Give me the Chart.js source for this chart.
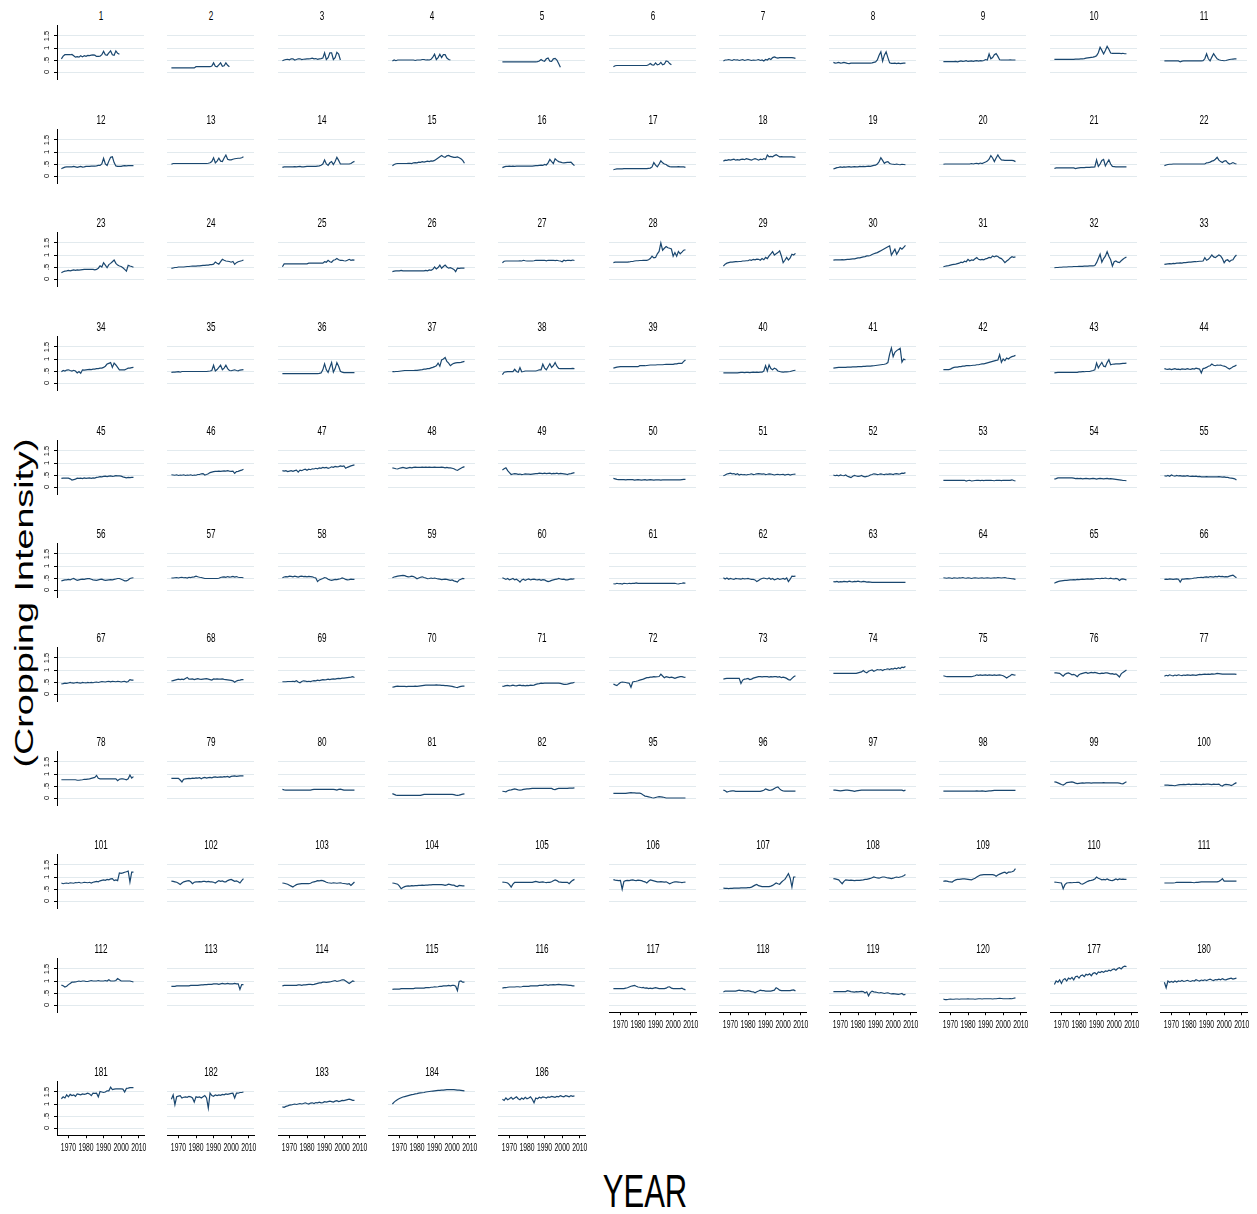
<!DOCTYPE html>
<html>
<head>
<meta charset="utf-8">
<script src="https://cdn.jsdelivr.net/npm/chart.js@4"></script>
<style>
  html, body { margin: 0; padding: 0; background: #fff; }
  body { width: 1257px; height: 1214px; position: relative; overflow: hidden; }
  canvas { position: absolute; }
  .txt { position: absolute; white-space: nowrap; line-height: 1; color: #000;
    font-family: 'Liberation Sans', Arial, sans-serif; }
  #ytitle { left: 24px; top: 603px; font-size: 26px;
    transform: translate(-50%, -50%) rotate(-90deg) scaleX(1.45); }
  #xtitle { left: 645px; top: 1190px; font-size: 47px;
    transform: translate(-50%, -50%) scaleX(0.66); }
  .ptitle { font-size: 12px; transform: translate(-50%, -50%) scaleX(0.68); }
</style>
</head>
<body>
<div id="ytitle" class="txt">(Cropping Intensity)</div>
<div id="xtitle" class="txt">YEAR</div>
<script>
// Years covered by every series (a series may stop early)
const years = [1966,1967,1968,1969,1970,1971,1972,1973,1974,1975,1976,1977,1978,1979,1980,1981,1982,1983,1984,1985,1986,1987,1988,1989,1990,1991,1992,1993,1994,1995,1996,1997,1998,1999,2000,2001,2002,2003,2004,2005,2006,2007];
const xTickValues = [1970, 1980, 1990, 2000, 2010];
const xTickLabels = ['1970', '1980', '1990', '2000', '2010'];
const yTickValues = [0, 0.5, 1, 1.5];
const yTickLabels = ['0', '.5', '1', '1.5'];

// Panel ids, in reading order
const panelIds = [1,2,3,4,5,6,7,8,9,10,11,12,13,14,15,16,17,18,19,20,21,22,23,24,25,26,27,28,29,30,31,32,33,34,35,36,37,38,39,40,41,42,43,44,45,46,47,48,49,50,51,52,53,54,55,56,57,58,59,60,61,62,63,64,65,66,67,68,69,70,71,72,73,74,75,76,77,78,79,80,81,82,95,96,97,98,99,100,101,102,103,104,105,106,107,108,109,110,111,112,113,114,115,116,117,118,119,120,177,180,181,182,183,184,186];

// Cropping intensity by year, one array per panel
const s1 = [.55,.66,.72,.72,.72,.72,.73,.68,.62,.64,.62,.68,.63,.68,.65,.69,.68,.70,.71,.70,.65,.65,.66,.72,.86,.72,.70,.80,.88,.72,.70,.88,.78,.74];
const s2 = [.17,.17,.17,.17,.17,.17,.17,.17,.17,.17,.17,.17,.17,.17,.22,.22,.22,.22,.22,.22,.22,.22,.22,.25,.38,.24,.22,.30,.38,.24,.26,.38,.28,.22];
const s3 = [.47,.50,.52,.53,.51,.55,.55,.50,.52,.55,.55,.52,.53,.54,.55,.55,.56,.58,.55,.56,.53,.55,.56,.58,.80,.52,.60,.80,.80,.52,.60,.82,.75,.50];
const s4 = [.46,.50,.47,.50,.50,.50,.50,.50,.50,.50,.50,.50,.50,.48,.50,.50,.50,.52,.52,.50,.51,.50,.53,.62,.74,.52,.60,.74,.60,.72,.72,.58,.52,.50];
const s5 = [.42,.42,.42,.42,.42,.42,.42,.42,.42,.42,.42,.42,.42,.42,.42,.42,.42,.42,.42,.42,.43,.46,.52,.47,.45,.55,.58,.45,.44,.55,.57,.50,.35,.20];
const s6 = [.22,.26,.27,.27,.27,.27,.27,.27,.27,.27,.27,.27,.27,.27,.27,.27,.27,.27,.27,.27,.30,.35,.30,.29,.38,.30,.32,.40,.30,.33,.46,.44,.35,.30];
const s7 = [.46,.50,.50,.52,.50,.48,.52,.50,.51,.48,.50,.52,.48,.50,.52,.50,.48,.50,.49,.50,.52,.48,.50,.46,.52,.50,.56,.52,.60,.63,.60,.58,.60,.60,.60,.60,.60,.60,.60,.60,.59,.57];
const s8 = [.40,.37,.38,.40,.37,.38,.40,.38,.36,.35,.37,.37,.37,.37,.37,.37,.37,.37,.37,.37,.37,.37,.38,.40,.42,.50,.70,.84,.45,.70,.84,.60,.38,.36,.36,.37,.35,.37,.35,.36,.37,.37];
const s9 = [.43,.43,.43,.43,.43,.43,.43,.44,.42,.44,.46,.44,.45,.47,.44,.45,.46,.44,.46,.47,.45,.47,.46,.48,.52,.50,.75,.55,.60,.72,.77,.65,.51,.50,.50,.50,.50,.50,.51,.50,.50,.50];
const s10 = [.53,.53,.53,.53,.53,.53,.53,.53,.53,.53,.53,.53,.54,.54,.54,.55,.55,.56,.58,.59,.60,.61,.62,.64,.68,.80,1.03,.90,.75,.90,1.07,.95,.79,.78,.78,.78,.78,.78,.77,.78,.76,.76];
const s11 = [.46,.46,.46,.46,.46,.46,.46,.46,.46,.42,.45,.46,.46,.46,.46,.46,.46,.46,.46,.46,.46,.46,.47,.55,.76,.55,.46,.62,.76,.65,.55,.51,.49,.48,.47,.48,.50,.52,.53,.54,.55,.55];
const s12 = [.30,.34,.37,.38,.38,.38,.38,.40,.38,.36,.38,.40,.37,.38,.40,.40,.40,.41,.41,.41,.42,.44,.44,.50,.74,.50,.44,.62,.78,.80,.56,.42,.40,.40,.40,.42,.43,.42,.43,.43,.43,.43];
const s13 = [.49,.52,.52,.52,.52,.52,.52,.52,.52,.52,.52,.52,.52,.52,.52,.52,.52,.52,.52,.52,.52,.53,.55,.60,.76,.55,.62,.74,.62,.60,.75,.87,.70,.67,.67,.70,.72,.73,.74,.74,.76,.80];
const s14 = [.36,.38,.38,.38,.38,.38,.38,.39,.38,.39,.40,.38,.38,.39,.40,.40,.40,.40,.40,.40,.41,.42,.45,.50,.67,.50,.44,.55,.60,.48,.60,.78,.65,.50,.50,.50,.50,.50,.50,.52,.57,.61];
const s15 = [.43,.48,.51,.52,.52,.52,.52,.52,.52,.53,.53,.52,.55,.56,.55,.58,.57,.60,.58,.60,.62,.60,.63,.62,.65,.70,.75,.80,.85,.80,.78,.84,.86,.82,.80,.78,.78,.80,.76,.72,.65,.53];
const s16 = [.35,.38,.40,.40,.41,.40,.41,.40,.41,.41,.41,.41,.41,.41,.41,.41,.41,.41,.42,.43,.43,.44,.45,.44,.48,.46,.55,.69,.60,.52,.72,.65,.60,.58,.56,.55,.56,.57,.57,.58,.50,.43];
const s17 = [.26,.28,.30,.30,.30,.30,.31,.31,.31,.31,.31,.31,.31,.31,.31,.31,.31,.31,.31,.31,.32,.33,.38,.56,.45,.38,.50,.63,.55,.50,.48,.42,.39,.38,.38,.38,.38,.39,.38,.38,.38,.36];
const s18 = [.62,.66,.65,.68,.66,.68,.70,.66,.68,.66,.69,.70,.68,.72,.70,.68,.66,.70,.72,.70,.66,.70,.68,.72,.69,.87,.80,.82,.80,.85,.89,.84,.80,.81,.80,.80,.80,.80,.80,.80,.79,.78];
const s19 = [.29,.32,.35,.36,.38,.36,.38,.37,.38,.39,.37,.38,.39,.38,.38,.40,.39,.40,.39,.40,.41,.40,.42,.44,.45,.50,.60,.76,.65,.53,.58,.60,.52,.50,.49,.48,.50,.48,.47,.49,.48,.47];
const s20 = [.49,.50,.50,.50,.50,.50,.50,.50,.50,.50,.50,.50,.50,.50,.50,.50,.52,.50,.52,.53,.51,.54,.52,.55,.58,.62,.70,.85,.75,.60,.75,.88,.75,.67,.66,.65,.65,.65,.65,.65,.64,.60];
const s21 = [.31,.34,.34,.34,.34,.34,.34,.34,.34,.34,.34,.34,.31,.33,.34,.35,.35,.35,.36,.36,.36,.37,.37,.38,.67,.40,.50,.65,.69,.42,.55,.67,.50,.40,.39,.38,.38,.38,.38,.38,.38,.38];
const s22 = [.43,.46,.48,.49,.49,.50,.50,.50,.50,.50,.50,.50,.50,.50,.50,.50,.50,.50,.50,.50,.50,.50,.50,.50,.55,.56,.58,.62,.64,.70,.78,.66,.60,.56,.62,.64,.55,.50,.52,.56,.52,.50];
const s23 = [.26,.30,.33,.34,.36,.34,.36,.38,.36,.38,.37,.38,.39,.40,.40,.40,.40,.40,.40,.38,.40,.45,.55,.50,.68,.58,.47,.60,.65,.72,.79,.65,.58,.54,.52,.47,.40,.33,.57,.54,.52,.49];
const s24 = [.44,.46,.48,.48,.50,.50,.50,.50,.51,.52,.52,.53,.54,.54,.54,.55,.55,.56,.57,.57,.58,.58,.60,.60,.62,.71,.66,.62,.72,.82,.78,.75,.74,.73,.70,.73,.61,.68,.72,.74,.76,.79];
const s25 = [.51,.63,.63,.63,.63,.63,.63,.63,.63,.63,.63,.63,.63,.63,.63,.66,.66,.66,.66,.66,.66,.66,.66,.66,.72,.70,.78,.72,.70,.78,.80,.85,.80,.78,.78,.76,.75,.78,.82,.78,.80,.79];
const s26 = [.31,.33,.34,.34,.34,.36,.34,.34,.34,.34,.34,.34,.34,.34,.34,.34,.34,.34,.34,.36,.34,.38,.36,.40,.50,.42,.48,.58,.45,.52,.58,.50,.45,.47,.44,.40,.31,.45,.44,.45,.45,.45];
const s27 = [.68,.74,.75,.75,.75,.75,.75,.75,.75,.75,.76,.75,.78,.76,.75,.75,.75,.75,.76,.78,.78,.78,.78,.78,.78,.76,.78,.78,.78,.78,.77,.78,.76,.75,.72,.78,.76,.78,.78,.77,.79,.77];
const s28 = [.68,.70,.70,.70,.70,.70,.70,.70,.70,.71,.73,.73,.75,.76,.76,.77,.77,.78,.78,.78,.80,.85,.95,.88,.90,1.05,1.15,1.50,1.20,1.28,1.35,1.30,1.28,1.25,.95,1.10,.95,1.15,1.05,1.12,1.20,1.22];
const s29 = [.54,.62,.66,.68,.70,.70,.71,.72,.72,.73,.73,.75,.75,.76,.76,.80,.78,.82,.80,.83,.82,.78,.85,.80,.90,.85,.96,1.05,1.14,1.00,1.05,1.10,1.17,.96,.68,.78,.90,.79,.88,1.03,1.00,1.07];
const s30 = [.79,.80,.80,.80,.80,.81,.80,.81,.82,.82,.83,.84,.84,.86,.88,.88,.90,.92,.93,.96,.96,.98,1.02,1.05,1.08,1.10,1.14,1.18,1.22,1.26,1.30,1.34,1.38,1.00,1.12,1.24,1.03,1.15,1.30,1.24,1.32,1.40];
const s31 = [.51,.53,.55,.56,.58,.60,.61,.62,.64,.66,.70,.68,.74,.72,.82,.75,.80,.78,.84,.89,.82,.80,.82,.80,.84,.86,.90,.88,.96,.92,.96,.94,.88,.85,.78,.68,.75,.80,.88,.93,.90,.92];
const s32 = [.47,.48,.48,.49,.49,.50,.50,.50,.51,.51,.51,.52,.52,.52,.53,.53,.53,.54,.54,.54,.55,.55,.55,.56,.68,.85,1.03,.70,.85,.95,1.14,.95,.80,.54,.72,.75,.70,.68,.76,.82,.88,.92];
const s33 = [.61,.62,.63,.64,.63,.65,.64,.66,.66,.67,.66,.68,.68,.69,.70,.70,.71,.72,.72,.73,.74,.74,.75,.89,.78,.82,.90,1.00,.92,.89,.95,1.00,.96,.85,.68,.78,.80,.72,.78,.80,.92,1.00];
const s34 = [.47,.52,.50,.54,.55,.52,.50,.53,.50,.42,.48,.41,.55,.54,.55,.56,.57,.56,.58,.58,.60,.60,.62,.62,.65,.70,.79,.82,.85,.65,.83,.75,.65,.55,.55,.55,.55,.58,.62,.62,.64,.65];
const s35 = [.44,.45,.45,.46,.47,.45,.48,.48,.48,.48,.48,.48,.48,.48,.48,.48,.48,.48,.48,.48,.48,.49,.50,.52,.74,.50,.56,.65,.74,.55,.62,.74,.60,.52,.51,.53,.55,.52,.51,.54,.55,.56];
const s36 = [.39,.39,.39,.39,.39,.39,.39,.39,.39,.39,.39,.39,.39,.39,.39,.39,.39,.39,.39,.39,.39,.40,.42,.55,.80,.55,.44,.65,.85,.45,.60,.85,.70,.49,.45,.43,.43,.43,.43,.43,.43,.43];
const s37 = [.47,.47,.48,.48,.49,.50,.51,.52,.52,.52,.52,.52,.52,.53,.53,.54,.55,.56,.58,.58,.60,.60,.63,.65,.68,.72,.83,.70,.96,1.00,1.06,.90,.83,.72,.78,.82,.84,.85,.85,.86,.88,.90];
const s38 = [.35,.45,.46,.47,.47,.47,.47,.57,.48,.45,.64,.47,.48,.50,.50,.50,.50,.50,.50,.50,.52,.55,.55,.78,.62,.55,.68,.80,.65,.72,.85,.70,.61,.60,.60,.60,.60,.60,.60,.60,.61,.60];
const s39 = [.62,.64,.66,.67,.68,.68,.68,.68,.68,.68,.68,.68,.68,.68,.68,.72,.72,.72,.72,.73,.74,.75,.75,.75,.75,.76,.76,.76,.76,.77,.78,.78,.78,.78,.78,.80,.80,.82,.82,.82,.90,.96];
const s40 = [.42,.42,.42,.42,.42,.42,.42,.42,.42,.43,.44,.44,.43,.44,.44,.43,.44,.45,.44,.45,.44,.45,.45,.50,.72,.50,.75,.60,.55,.62,.58,.50,.48,.46,.45,.46,.46,.47,.48,.50,.52,.53];
const s41 = [.62,.63,.64,.65,.65,.65,.65,.65,.66,.66,.66,.67,.67,.67,.68,.68,.68,.69,.69,.70,.70,.70,.71,.72,.73,.74,.75,.76,.77,.78,.80,.85,1.20,1.46,1.10,1.28,1.35,1.40,1.45,.87,1.00,.96];
const s42 = [.56,.56,.56,.56,.58,.62,.65,.66,.66,.68,.68,.70,.70,.72,.72,.72,.73,.74,.74,.76,.76,.78,.80,.80,.82,.84,.86,.88,.90,.92,.94,.96,1.18,.86,1.00,.93,1.04,1.00,1.06,1.10,1.12,1.15];
const s43 = [.42,.43,.44,.44,.44,.44,.44,.44,.44,.44,.44,.44,.44,.44,.46,.46,.47,.47,.48,.48,.48,.50,.52,.55,.83,.63,.75,.86,.70,.68,.85,.97,.76,.78,.79,.80,.80,.80,.81,.82,.82,.83];
const s44 = [.60,.58,.57,.59,.56,.58,.60,.57,.58,.56,.59,.58,.57,.60,.58,.57,.60,.58,.62,.60,.58,.42,.60,.62,.65,.70,.72,.79,.74,.72,.75,.74,.75,.72,.70,.68,.62,.58,.62,.68,.70,.75];
const s45 = [.36,.37,.37,.37,.37,.34,.29,.31,.33,.37,.36,.37,.35,.38,.36,.37,.38,.36,.38,.37,.40,.41,.43,.42,.44,.45,.43,.45,.46,.44,.45,.47,.46,.46,.45,.42,.40,.38,.40,.39,.40,.40];
const s46 = [.51,.50,.49,.51,.48,.50,.49,.51,.48,.50,.49,.51,.48,.50,.49,.52,.52,.55,.56,.50,.52,.55,.60,.62,.64,.65,.65,.66,.65,.66,.67,.66,.68,.66,.65,.66,.57,.64,.65,.68,.70,.74];
const s47 = [.68,.66,.68,.64,.66,.68,.65,.68,.70,.62,.70,.68,.72,.74,.70,.74,.72,.76,.75,.78,.76,.80,.78,.82,.80,.82,.78,.80,.84,.82,.86,.84,.85,.88,.86,.88,.78,.82,.85,.88,.90,.92];
const s48 = [.80,.78,.76,.75,.78,.80,.82,.80,.78,.80,.82,.80,.82,.83,.82,.82,.82,.83,.82,.83,.82,.83,.82,.82,.83,.82,.82,.82,.83,.82,.80,.82,.80,.80,.78,.76,.72,.69,.74,.78,.82,.85];
const s49 = [.71,.76,.80,.68,.60,.52,.54,.56,.55,.53,.54,.52,.53,.55,.54,.54,.53,.54,.55,.56,.56,.58,.57,.56,.58,.56,.57,.58,.55,.57,.56,.58,.55,.57,.56,.55,.54,.52,.55,.56,.58,.60];
const s50 = [.36,.34,.32,.31,.31,.31,.31,.30,.31,.31,.31,.31,.29,.30,.31,.30,.29,.30,.31,.29,.30,.31,.30,.29,.30,.30,.30,.29,.30,.30,.30,.30,.30,.30,.30,.30,.30,.30,.30,.31,.32,.32];
const s51 = [.47,.50,.54,.56,.58,.55,.56,.52,.55,.50,.53,.51,.52,.50,.52,.53,.55,.52,.53,.55,.56,.55,.54,.55,.52,.53,.55,.54,.52,.50,.52,.53,.51,.52,.53,.50,.52,.53,.50,.52,.53,.54];
const s52 = [.50,.47,.49,.46,.50,.48,.47,.50,.45,.42,.39,.45,.48,.46,.44,.45,.48,.44,.42,.44,.46,.50,.52,.55,.54,.52,.53,.55,.53,.52,.54,.53,.55,.54,.52,.55,.56,.54,.55,.58,.57,.60];
const s53 = [.28,.28,.28,.28,.28,.28,.28,.28,.28,.28,.28,.28,.28,.25,.27,.28,.25,.26,.27,.28,.28,.27,.28,.27,.28,.28,.28,.28,.27,.26,.28,.28,.28,.27,.28,.28,.28,.28,.28,.30,.27,.25];
const s54 = [.33,.35,.38,.38,.38,.38,.38,.38,.38,.38,.38,.37,.35,.36,.35,.36,.34,.35,.36,.35,.34,.35,.36,.35,.33,.35,.36,.35,.34,.35,.36,.34,.35,.34,.33,.32,.31,.30,.29,.27,.27,.26];
const s55 = [.47,.45,.48,.45,.50,.47,.45,.48,.46,.47,.45,.46,.45,.47,.45,.44,.45,.44,.45,.43,.44,.42,.42,.42,.43,.42,.42,.42,.42,.42,.42,.43,.42,.41,.42,.40,.40,.38,.37,.36,.34,.29];
const s56 = [.38,.40,.42,.42,.44,.42,.46,.48,.44,.40,.42,.44,.45,.44,.46,.47,.47,.45,.42,.41,.40,.42,.44,.45,.42,.40,.41,.42,.43,.42,.44,.46,.48,.48,.45,.42,.38,.38,.42,.48,.50,.51];
const s57 = [.50,.50,.51,.52,.50,.52,.53,.51,.52,.50,.53,.52,.54,.55,.58,.55,.53,.52,.50,.48,.48,.48,.48,.48,.48,.48,.48,.49,.52,.54,.55,.53,.56,.54,.55,.57,.54,.56,.53,.52,.52,.51];
const s58 = [.51,.54,.56,.55,.58,.57,.55,.58,.56,.54,.57,.58,.56,.57,.55,.57,.56,.55,.52,.50,.35,.42,.45,.48,.52,.50,.45,.42,.40,.42,.44,.43,.45,.47,.50,.48,.44,.42,.43,.45,.44,.44];
const s59 = [.51,.54,.56,.58,.59,.60,.61,.60,.57,.55,.56,.58,.56,.52,.47,.50,.53,.55,.52,.50,.47,.48,.50,.48,.50,.48,.46,.45,.43,.44,.45,.44,.42,.40,.42,.38,.36,.33,.42,.45,.48,.47];
const s60 = [.51,.48,.44,.48,.42,.45,.48,.42,.45,.40,.33,.42,.45,.40,.44,.46,.42,.44,.45,.43,.42,.44,.40,.43,.42,.38,.35,.37,.40,.42,.44,.45,.48,.46,.44,.45,.42,.42,.44,.46,.45,.47];
const s61 = [.26,.25,.28,.26,.27,.25,.28,.27,.26,.28,.27,.28,.28,.30,.28,.28,.28,.28,.28,.28,.28,.28,.28,.28,.28,.28,.28,.28,.28,.28,.28,.28,.28,.28,.28,.28,.26,.25,.27,.28,.30,.28];
const s62 = [.51,.46,.50,.45,.48,.46,.44,.48,.47,.46,.45,.48,.46,.47,.48,.46,.44,.44,.42,.35,.40,.45,.48,.50,.48,.46,.50,.45,.48,.42,.45,.48,.44,.46,.48,.45,.50,.35,.45,.58,.57,.58];
const s63 = [.35,.34,.36,.33,.35,.34,.36,.35,.34,.37,.35,.34,.36,.35,.37,.35,.34,.36,.35,.33,.34,.33,.32,.32,.32,.32,.32,.32,.32,.32,.32,.32,.32,.32,.32,.32,.32,.32,.32,.32,.32,.32];
const s64 = [.51,.50,.49,.51,.50,.48,.51,.50,.49,.51,.50,.52,.50,.49,.51,.50,.48,.50,.51,.50,.49,.50,.51,.49,.50,.51,.50,.49,.50,.51,.50,.52,.51,.50,.51,.52,.50,.49,.48,.47,.46,.44];
const s65 = [.28,.32,.35,.37,.38,.39,.40,.40,.41,.42,.42,.43,.42,.44,.43,.44,.45,.44,.45,.46,.45,.46,.45,.47,.48,.48,.47,.49,.48,.50,.48,.47,.49,.47,.46,.48,.47,.40,.45,.46,.44,.42];
const s66 = [.44,.45,.44,.46,.45,.44,.45,.46,.45,.33,.45,.45,.46,.47,.46,.47,.48,.50,.50,.52,.52,.53,.52,.54,.55,.53,.56,.55,.54,.57,.55,.58,.56,.57,.55,.56,.55,.58,.60,.62,.56,.51];
const s67 = [.42,.43,.45,.44,.46,.48,.46,.45,.47,.48,.46,.45,.48,.47,.46,.48,.47,.48,.47,.49,.50,.48,.50,.52,.51,.50,.52,.53,.51,.53,.52,.51,.53,.52,.50,.52,.53,.50,.52,.60,.58,.58];
const s68 = [.54,.56,.58,.60,.62,.60,.62,.60,.65,.69,.62,.62,.63,.60,.62,.64,.62,.61,.62,.63,.64,.62,.60,.58,.63,.62,.63,.62,.62,.63,.61,.60,.59,.58,.57,.55,.49,.54,.57,.58,.60,.60];
const s69 = [.51,.51,.51,.52,.52,.52,.53,.52,.55,.50,.47,.52,.55,.54,.52,.53,.52,.54,.56,.55,.58,.56,.58,.60,.59,.60,.62,.60,.62,.63,.62,.64,.65,.64,.66,.66,.67,.68,.69,.70,.72,.69];
const s70 = [.28,.30,.32,.33,.32,.32,.32,.32,.31,.32,.32,.32,.32,.33,.32,.33,.34,.35,.36,.37,.37,.37,.37,.37,.37,.38,.37,.37,.36,.36,.35,.35,.34,.33,.32,.30,.28,.27,.30,.32,.33,.33];
const s71 = [.32,.33,.35,.36,.34,.35,.37,.35,.34,.36,.37,.35,.36,.34,.36,.35,.37,.36,.37,.40,.42,.43,.45,.44,.45,.45,.45,.45,.45,.45,.45,.45,.45,.44,.42,.40,.40,.41,.43,.45,.46,.49];
const s72 = [.42,.38,.35,.42,.48,.50,.49,.48,.46,.45,.28,.50,.52,.53,.55,.58,.60,.62,.65,.68,.68,.70,.70,.72,.71,.72,.73,.83,.75,.68,.72,.70,.68,.70,.68,.65,.68,.70,.72,.72,.70,.69];
const s73 = [.62,.64,.65,.65,.65,.65,.65,.65,.65,.65,.44,.58,.62,.63,.65,.60,.62,.66,.68,.70,.72,.72,.71,.72,.72,.72,.70,.72,.71,.72,.72,.70,.72,.68,.70,.68,.65,.60,.58,.65,.72,.76];
const s74 = [.86,.86,.86,.86,.86,.86,.86,.86,.86,.86,.86,.86,.86,.86,.88,.90,.92,.98,.92,.88,.95,.98,1.00,.95,.98,1.02,1.00,1.02,.98,1.02,1.03,1.05,1.02,1.06,1.04,1.08,1.05,1.10,1.06,1.12,1.10,1.15];
const s75 = [.76,.74,.72,.72,.72,.72,.72,.72,.72,.72,.72,.72,.72,.72,.72,.72,.72,.74,.76,.80,.78,.80,.78,.79,.80,.78,.80,.79,.78,.80,.78,.79,.80,.78,.76,.72,.67,.72,.76,.82,.80,.79];
const s76 = [.88,.88,.87,.86,.80,.74,.82,.86,.88,.84,.80,.82,.78,.72,.80,.84,.86,.88,.90,.86,.88,.90,.88,.90,.88,.86,.85,.87,.86,.88,.88,.86,.84,.85,.82,.84,.78,.71,.84,.90,.95,1.00];
const s77 = [.74,.78,.76,.80,.77,.76,.79,.77,.80,.78,.77,.79,.78,.80,.79,.78,.80,.79,.78,.80,.82,.81,.82,.83,.82,.83,.82,.84,.83,.84,.86,.85,.84,.83,.83,.83,.83,.83,.83,.83,.83,.82];
const s78 = [.76,.76,.76,.76,.76,.76,.76,.76,.76,.74,.74,.75,.76,.78,.78,.79,.80,.82,.84,.86,.94,.82,.80,.80,.80,.80,.80,.80,.80,.80,.80,.80,.72,.78,.80,.80,.78,.76,.80,.96,.83,.89];
const s79 = [.82,.82,.82,.82,.82,.75,.67,.78,.80,.81,.82,.81,.83,.82,.84,.83,.85,.80,.84,.86,.83,.85,.86,.84,.87,.88,.86,.87,.88,.87,.89,.88,.90,.86,.90,.91,.92,.90,.91,.92,.92,.92];
const s80 = [.36,.34,.33,.33,.33,.33,.33,.33,.33,.33,.33,.33,.33,.33,.33,.33,.33,.35,.36,.36,.36,.36,.36,.36,.36,.36,.36,.36,.36,.36,.35,.33,.36,.37,.35,.33,.33,.33,.33,.33,.33,.33];
const s81 = [.18,.15,.12,.11,.11,.11,.11,.11,.11,.11,.11,.11,.11,.11,.11,.11,.11,.13,.15,.15,.15,.15,.15,.15,.15,.15,.15,.15,.15,.15,.15,.15,.15,.15,.15,.14,.12,.11,.12,.14,.16,.17];
const s82 = [.28,.27,.26,.30,.33,.34,.36,.38,.36,.34,.33,.34,.36,.37,.38,.38,.39,.40,.40,.40,.40,.40,.40,.40,.40,.40,.40,.40,.40,.36,.35,.38,.40,.40,.40,.40,.40,.40,.41,.41,.41,.42];
const s95 = [.19,.19,.19,.19,.19,.19,.19,.19,.20,.21,.22,.21,.21,.20,.20,.20,.18,.12,.08,.07,.05,.03,.01,0,.02,.04,.06,.05,.04,.02,0,0,0,0,0,0,0,0,0,0,0,0];
const s96 = [.33,.30,.25,.27,.29,.30,.30,.28,.28,.28,.28,.28,.28,.28,.28,.28,.28,.28,.28,.28,.28,.28,.30,.32,.38,.35,.32,.33,.35,.40,.44,.46,.38,.32,.30,.29,.29,.29,.29,.29,.29,.29];
const s97 = [.33,.33,.32,.31,.30,.31,.32,.33,.33,.32,.31,.30,.28,.30,.31,.32,.33,.33,.33,.33,.33,.33,.33,.33,.33,.33,.33,.33,.33,.33,.33,.33,.33,.33,.33,.33,.33,.33,.33,.33,.30,.33];
const s98 = [.29,.29,.29,.29,.29,.29,.29,.29,.29,.29,.29,.29,.29,.29,.29,.29,.29,.29,.29,.30,.29,.29,.30,.29,.28,.29,.30,.30,.31,.32,.32,.32,.32,.32,.32,.32,.32,.32,.32,.32,.32,.32];
const s99 = [.67,.66,.63,.60,.56,.54,.58,.64,.65,.66,.67,.65,.62,.60,.61,.62,.63,.62,.63,.63,.63,.62,.63,.63,.63,.63,.63,.63,.64,.63,.63,.63,.63,.63,.63,.63,.63,.62,.60,.59,.64,.68];
const s100 = [.54,.54,.54,.53,.53,.52,.51,.53,.55,.56,.56,.57,.56,.57,.58,.56,.57,.57,.58,.57,.57,.56,.58,.57,.58,.58,.57,.56,.58,.57,.57,.58,.52,.50,.55,.57,.56,.55,.52,.55,.60,.64];
const s101 = [.75,.72,.74,.75,.73,.76,.75,.74,.77,.76,.78,.75,.76,.78,.77,.76,.78,.75,.78,.80,.82,.80,.84,.86,.88,.86,.90,.88,.92,.93,.85,.88,.85,1.17,1.15,1.17,1.20,1.22,1.25,.79,1.20,1.20];
const s102 = [.83,.82,.80,.78,.74,.69,.75,.80,.82,.84,.85,.80,.72,.78,.80,.80,.81,.80,.82,.82,.80,.82,.80,.80,.78,.75,.80,.85,.82,.84,.80,.80,.85,.88,.90,.86,.82,.84,.80,.75,.85,.93];
const s103 = [.75,.74,.72,.70,.66,.62,.58,.64,.68,.70,.71,.72,.72,.72,.72,.72,.74,.78,.80,.82,.85,.84,.86,.85,.82,.78,.76,.75,.74,.76,.75,.74,.75,.76,.74,.73,.72,.70,.72,.65,.72,.79];
const s104 = [.75,.74,.72,.70,.62,.51,.56,.60,.62,.63,.62,.64,.63,.64,.64,.65,.65,.66,.65,.66,.66,.67,.67,.68,.68,.68,.68,.68,.68,.67,.65,.67,.70,.68,.66,.66,.62,.60,.65,.64,.63,.63];
const s105 = [.79,.78,.77,.75,.68,.58,.70,.78,.78,.78,.78,.78,.78,.78,.78,.78,.78,.78,.80,.82,.80,.78,.79,.80,.78,.77,.78,.78,.80,.84,.88,.85,.80,.79,.78,.78,.78,.78,.72,.80,.86,.90];
const s106 = [.89,.87,.86,.85,.86,.49,.82,.85,.86,.85,.87,.88,.86,.85,.87,.86,.85,.82,.80,.75,.82,.88,.86,.84,.82,.80,.80,.81,.80,.79,.80,.76,.72,.75,.78,.80,.80,.79,.78,.77,.78,.79];
const s107 = [.54,.53,.53,.52,.53,.53,.54,.54,.54,.54,.55,.55,.55,.55,.56,.56,.58,.62,.66,.69,.64,.62,.60,.60,.60,.60,.60,.62,.65,.70,.75,.72,.70,.78,.85,.90,1.02,1.14,.95,.58,1.00,1.00];
const s108 = [.93,.92,.90,.88,.80,.72,.82,.88,.87,.86,.87,.86,.85,.86,.86,.86,.87,.88,.90,.90,.92,.94,.97,1.00,.98,.96,.95,.98,1.00,1.00,.98,.96,.95,.93,.95,.98,1.00,.98,1.00,1.02,1.05,1.10];
const s109 = [.82,.84,.83,.81,.80,.79,.84,.88,.90,.90,.91,.92,.92,.91,.90,.89,.88,.92,.95,1.00,1.04,1.08,1.09,1.10,1.10,1.10,1.10,1.10,1.10,1.08,1.03,1.08,1.12,1.15,1.18,1.20,1.15,1.20,1.20,1.22,1.25,1.35];
const s110 = [.79,.78,.77,.76,.75,.51,.68,.75,.76,.77,.76,.77,.77,.78,.78,.72,.70,.74,.78,.82,.85,.86,.88,.92,1.00,.95,.92,.88,.90,.88,.92,.88,.86,.85,.88,.92,.88,.92,.90,.91,.90,.90];
const s111 = [.75,.75,.75,.75,.75,.75,.76,.78,.78,.78,.78,.78,.78,.78,.78,.78,.77,.76,.78,.78,.79,.80,.80,.80,.80,.80,.80,.80,.80,.80,.80,.82,.86,.93,.83,.83,.83,.83,.83,.83,.83,.83];
const s112 = [.83,.80,.75,.78,.85,.90,.95,.95,.96,.98,1.00,.98,1.00,1.00,.98,.98,1.00,1.02,1.00,1.00,1.00,1.02,1.00,1.00,1.00,1.02,1.00,1.05,1.00,1.00,1.00,1.02,1.10,1.05,1.00,1.00,1.00,1.00,1.00,1.00,.98,.96];
const s113 = [.78,.78,.78,.80,.80,.80,.80,.80,.80,.80,.80,.82,.82,.82,.82,.82,.83,.84,.84,.85,.85,.86,.86,.86,.88,.88,.88,.86,.88,.90,.88,.88,.90,.88,.88,.88,.90,.88,.88,.65,.85,.85];
const s114 = [.80,.82,.82,.82,.82,.82,.82,.82,.82,.84,.84,.82,.84,.84,.85,.86,.86,.85,.86,.88,.90,.92,.92,.95,.95,.94,.95,.96,.98,1.00,1.02,.98,1.00,1.02,1.05,1.05,1.00,.95,.90,.95,1.00,.98];
const s115 = [.65,.66,.66,.66,.66,.68,.68,.68,.68,.68,.68,.68,.68,.70,.70,.70,.70,.70,.70,.72,.72,.72,.74,.74,.76,.75,.76,.78,.78,.80,.80,.80,.82,.80,.82,.82,.78,.60,.98,1.00,.95,.95];
const s116 = [.70,.72,.72,.74,.75,.75,.75,.75,.76,.76,.75,.76,.78,.78,.78,.78,.80,.80,.80,.80,.80,.82,.82,.82,.84,.84,.82,.84,.84,.85,.84,.85,.86,.85,.84,.84,.84,.83,.82,.82,.80,.80];
const s117 = [.68,.68,.68,.68,.68,.68,.68,.70,.72,.75,.78,.80,.82,.78,.75,.74,.72,.73,.70,.71,.68,.70,.68,.70,.72,.70,.68,.68,.68,.68,.70,.75,.76,.70,.68,.68,.68,.68,.68,.70,.66,.63];
const s118 = [.54,.58,.58,.58,.58,.58,.58,.58,.60,.62,.60,.60,.58,.58,.60,.58,.56,.55,.51,.55,.58,.62,.60,.60,.58,.58,.58,.58,.60,.62,.72,.68,.62,.60,.60,.60,.60,.60,.60,.62,.63,.58];
const s119 = [.56,.56,.56,.56,.56,.56,.56,.56,.60,.58,.56,.55,.54,.56,.55,.56,.57,.56,.50,.55,.38,.52,.58,.55,.54,.52,.50,.52,.50,.48,.50,.51,.48,.46,.47,.46,.45,.44,.46,.48,.42,.44];
const s120 = [.25,.22,.22,.24,.25,.24,.24,.25,.25,.24,.25,.25,.25,.25,.26,.25,.25,.25,.24,.25,.26,.26,.25,.26,.26,.26,.26,.26,.25,.26,.26,.27,.28,.27,.26,.26,.26,.26,.27,.26,.28,.30];
const s177 = [.85,1.00,.95,1.05,.90,1.05,1.10,1.00,1.12,1.08,1.15,1.05,1.18,1.20,1.12,1.22,1.25,1.18,1.28,1.25,1.30,1.22,1.32,1.35,1.28,1.38,1.35,1.40,1.36,1.42,1.40,1.45,1.42,1.48,1.50,1.45,1.52,1.55,1.50,1.58,1.62,1.60];
const s180 = [.95,.72,1.00,.95,.98,.95,1.00,.96,1.00,.98,1.02,.98,1.00,1.03,1.00,.98,1.02,1.00,1.05,1.02,1.00,1.04,1.02,1.05,1.02,1.05,1.08,1.04,1.02,1.06,1.05,1.08,1.05,1.10,1.06,1.05,1.08,1.10,1.12,1.08,1.10,1.12];
const s181 = [1.22,1.30,1.25,1.38,1.30,1.40,1.35,1.38,1.32,1.42,1.40,1.38,1.42,1.40,1.42,1.45,1.42,1.35,1.45,1.44,1.45,1.30,1.52,1.50,1.48,1.50,1.55,1.55,1.70,1.60,1.62,1.63,1.63,1.63,1.63,1.62,1.50,1.65,1.66,1.68,1.68,1.68];
const s182 = [1.20,1.38,.97,1.30,1.33,1.35,1.25,1.28,1.30,1.28,1.32,1.30,1.25,1.08,1.30,1.28,1.30,1.25,1.30,1.35,1.25,.83,1.45,1.35,1.32,1.38,1.35,1.38,1.36,1.40,1.38,1.42,1.40,1.42,1.44,1.45,1.25,1.45,1.45,1.48,1.48,1.50];
const s183 = [.88,.86,.90,.92,.95,.96,.98,1.00,.98,1.00,1.02,1.00,1.02,1.05,1.02,1.00,1.04,1.05,1.02,1.06,1.05,1.08,1.05,1.06,1.10,1.08,1.10,1.12,1.10,1.08,1.12,1.14,1.10,1.12,1.15,1.14,1.16,1.18,1.20,1.18,1.15,1.15];
const s184 = [1.00,1.08,1.14,1.19,1.23,1.26,1.29,1.31,1.33,1.35,1.37,1.39,1.40,1.42,1.43,1.45,1.46,1.47,1.48,1.50,1.51,1.52,1.53,1.54,1.55,1.56,1.57,1.57,1.58,1.58,1.59,1.60,1.60,1.60,1.60,1.60,1.59,1.58,1.58,1.57,1.56,1.55];
const s186 = [1.20,1.15,1.25,1.18,1.22,1.28,1.20,1.25,1.30,1.22,1.18,1.25,1.20,1.28,1.22,1.25,1.30,1.20,1.05,1.25,1.22,1.28,1.25,1.30,1.28,1.25,1.30,1.28,1.32,1.30,1.28,1.32,1.30,1.35,1.32,1.30,1.35,1.33,1.30,1.35,1.32,1.34];

const panelSeries = [s1,s2,s3,s4,s5,s6,s7,s8,s9,s10,s11,s12,s13,s14,s15,s16,s17,s18,s19,s20,s21,s22,s23,s24,s25,s26,s27,s28,s29,s30,s31,s32,s33,s34,s35,s36,s37,s38,s39,s40,s41,s42,s43,s44,s45,s46,s47,s48,s49,s50,s51,s52,s53,s54,s55,s56,s57,s58,s59,s60,s61,s62,s63,s64,s65,s66,s67,s68,s69,s70,s71,s72,s73,s74,s75,s76,s77,s78,s79,s80,s81,s82,s95,s96,s97,s98,s99,s100,s101,s102,s103,s104,s105,s106,s107,s108,s109,s110,s111,s112,s113,s114,s115,s116,s117,s118,s119,s120,s177,s180,s181,s182,s183,s184,s186];

// ---- layout of the panel grid ----
const COLS = 11;
const PLOT_LEFT0 = 57;          // left edge of the first column's plot area
const COL_PITCH = 110.3;
const ZERO_Y = [72, 176, 279, 383, 487, 590, 694, 798, 901, 1005, 1128]; // y of the 0 line per row
const SIDE = 30;                // room on each side of a plot area
const PLOT_W = 87;
const CANVAS_W = SIDE + PLOT_W + SIDE;
const CANVAS_H = 96;
const ZERO_OFFSET = 66;         // distance from canvas top to the 0 line
const TITLE_OFFSET = 56;        // distance from panel title centre to the 0 line

const LINE_COLOR = '#1a476f';
const GRID_COLOR = '#e2eaee';
const LABEL_FONT = "11px 'Liberation Sans', Arial, sans-serif";

Chart.defaults.font.family = "'Liberation Sans', Arial, sans-serif";
Chart.defaults.color = '#000';

// Year labels under the x axis, drawn narrow at each tick of the x scale
const narrowXLabels = {
  id: 'narrowXLabels',
  afterDraw(chart, args, opts) {
    if (!opts.show) return;
    const axis = chart.scales.x;
    const ctx = chart.ctx;
    ctx.save();
    ctx.fillStyle = '#000';
    ctx.font = LABEL_FONT;
    ctx.textAlign = 'center';
    ctx.textBaseline = 'alphabetic';
    axis.ticks.forEach((t, i) => {
      ctx.save();
      ctx.translate(axis.getPixelForValue(t.value), axis.top + 15.5);
      ctx.scale(0.62, 1);
      ctx.fillText(xTickLabels[i], 0, 0);
      ctx.restore();
    });
    ctx.restore();
  }
};

panelIds.forEach((id, k) => {
  const row = Math.floor(k / COLS);
  const col = k % COLS;
  const isLeft = col === 0;
  const isBottom = k + COLS >= panelIds.length;
  const plotLeft = Math.round(PLOT_LEFT0 + COL_PITCH * col);

  // panel heading
  const head = document.createElement('div');
  head.className = 'txt ptitle';
  head.textContent = String(id);
  head.style.left = (plotLeft + PLOT_W / 2) + 'px';
  head.style.top = (ZERO_Y[row] - TITLE_OFFSET) + 'px';
  document.body.appendChild(head);

  const cv = document.createElement('canvas');
  cv.width = CANVAS_W;
  cv.height = CANVAS_H;
  cv.style.left = (plotLeft - SIDE) + 'px';
  cv.style.top = (ZERO_Y[row] - ZERO_OFFSET) + 'px';
  cv.style.width = CANVAS_W + 'px';
  cv.style.height = CANVAS_H + 'px';
  document.body.appendChild(cv);

  const values = panelSeries[k];
  const points = values.map((v, i) => ({ x: years[i], y: v }));

  new Chart(cv, {
    type: 'line',
    data: {
      datasets: [{
        data: points,
        borderColor: LINE_COLOR,
        borderWidth: 1.2,
        pointRadius: 0,
        tension: 0,
        fill: false
      }]
    },
    plugins: [narrowXLabels],
    options: {
      responsive: false,
      animation: false,
      devicePixelRatio: 1,
      events: [],
      layout: { padding: { left: 0, right: SIDE, top: 19.2, bottom: 2.8 } },
      plugins: {
        legend: { display: false },
        tooltip: { enabled: false },
        title: { display: false },
        narrowXLabels: { show: isBottom }
      },
      scales: {
        x: {
          type: 'linear',
          min: 1963.5,
          max: 2013,
          afterBuildTicks: (axis) => { axis.ticks = xTickValues.map(v => ({ value: v })); },
          afterFit: (axis) => { axis.height = 20; },
          grid: { display: isBottom, drawOnChartArea: false, drawTicks: true, tickLength: 3,
                  color: '#000', tickColor: '#000', lineWidth: 1 },
          border: { display: isBottom, color: '#000', width: 1 },
          ticks: { display: false }
        },
        y: {
          type: 'linear',
          min: -0.3,
          max: 1.95,
          afterBuildTicks: (axis) => { axis.ticks = yTickValues.map(v => ({ value: v })); },
          afterFit: (axis) => { axis.width = SIDE; },
          grid: { display: true, drawOnChartArea: true, drawTicks: isLeft, tickLength: 3,
                  color: GRID_COLOR, tickColor: '#000', lineWidth: 1 },
          border: { display: isLeft, color: '#000', width: 1 },
          ticks: { display: isLeft, minRotation: 90, maxRotation: 90, crossAlign: 'center', padding: 2,
                   color: '#000', font: { size: 7.5 },
                   callback: (v, i) => yTickLabels[i] }
        }
      }
    }
  });
});
</script>
</body>
</html>
